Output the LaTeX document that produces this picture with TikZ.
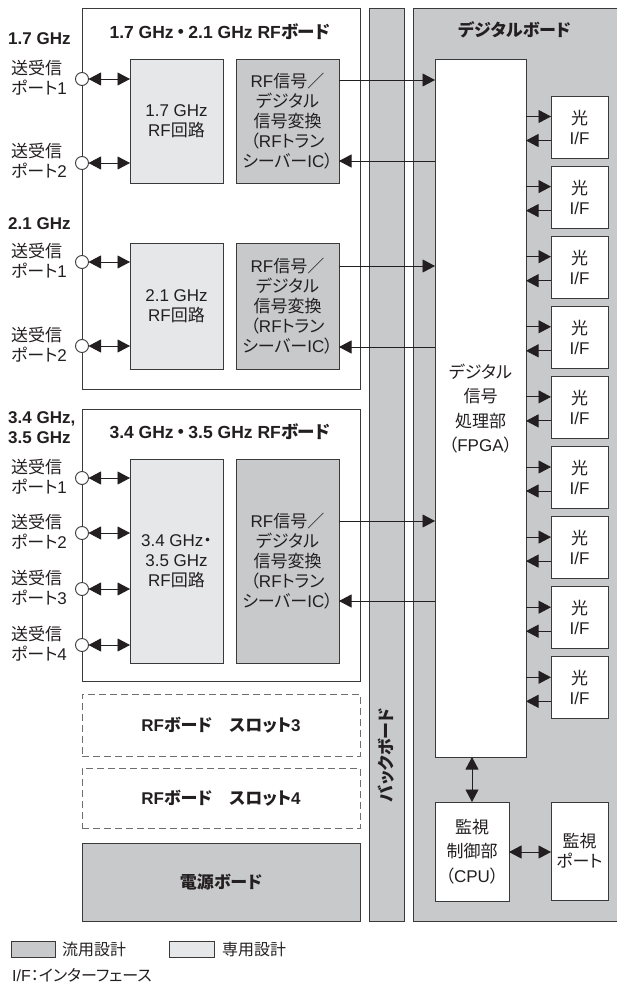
\documentclass[tikz,border=0pt]{standalone}
\usepackage{fontspec}
\setmainfont{Liberation Sans}
\newfontfamily\jpfam{Noto Sans CJK JP}[RawFeature=+palt]
\newfontfamily\lafam{Liberation Sans}
\XeTeXinterchartokenstate=1
\newXeTeXintercharclass\JPcls
\newcount\jcc
\jcc="3000
\loop\XeTeXcharclass\jcc=\JPcls\relax\ifnum\jcc<"9FFF\relax\advance\jcc by 1\relax\repeat
\jcc="FF00
\loop\XeTeXcharclass\jcc=\JPcls\relax\ifnum\jcc<"FFEF\relax\advance\jcc by 1\relax\repeat
\XeTeXinterchartoks 0 \JPcls = {\jpfam}
\XeTeXinterchartoks 4095 \JPcls = {\jpfam}
\XeTeXinterchartoks \JPcls 0 = {\lafam}
\XeTeXinterchartoks \JPcls 4095 = {\lafam}
\usetikzlibrary{arrows.meta}
\definecolor{gA}{HTML}{C8C9CA}
\definecolor{gB}{HTML}{E6E7E8}
\definecolor{ln}{HTML}{3A3A3A}
\definecolor{dl}{HTML}{6D6E70}
\definecolor{tc}{HTML}{231F20}
\newcommand\fsA{\fontsize{17}{20}\selectfont}
\newcommand\fsT{\fontsize{17.5}{20}\selectfont}
\newcommand\fsB{\fontsize{17}{24.4}\selectfont}
\newcommand\fsL{\fontsize{16}{20}\selectfont}
\begin{document}
\begin{tikzpicture}[x=1pt,y=-1pt,
  every node/.style={text=tc},
  box/.style={draw=ln, line width=0.9pt, inner sep=0pt, outer sep=0pt, anchor=north west, font=\fsA, align=center},
  slot/.style={draw=dl, line width=0.8pt, dash pattern=on 7pt off 4pt, inner sep=0pt, outer sep=0pt, anchor=north west, font=\fsA\bfseries, align=center},
  circ/.style={circle, draw=ln, fill=white, line width=0.9pt, minimum size=13pt, inner sep=0pt, outer sep=0pt},
  lab/.style={font=\fsA, align=left, inner sep=0pt, anchor=west},
  ttl/.style={font=\fsA\bfseries, align=center, inner sep=0pt},
  arr/.style={draw=tc, line width=0.9pt, -{Triangle[length=12.5pt,width=13pt]}},
  darr/.style={draw=tc, line width=0.9pt, {Triangle[length=12.5pt,width=13pt]}-{Triangle[length=12.5pt,width=13pt]}}]
\useasboundingbox (0,0) rectangle (616,985);

% ---------------- boards ----------------
\node[box, fill=white, minimum width=278pt, minimum height=381pt] (b1) at (82,8) {};
\node[box, fill=white, minimum width=278pt, minimum height=272pt] (b3) at (82,409) {};
\node[slot, minimum width=278pt, minimum height=62pt] (s3) at (82,694) {RFボード　スロット3};
\node[slot, minimum width=278pt, minimum height=60pt] (s4) at (82,768) {RFボード　スロット4};
\node[box, fill=gA, minimum width=278pt, minimum height=78pt, font=\fsA\bfseries] (pw) at (82,843) {電源ボード};
\node[box, fill=gA, minimum width=35pt, minimum height=913pt] (bb) at (369,8) {};
\node[ttl, rotate=90] (bbt) at (386.5,755) {バックボード};
\node[box, fill=gA, minimum width=205pt, minimum height=913pt] (db) at (413,8) {};
\node[ttl] (dbt) at (514.5,30) {デジタルボード};

% ---------------- board titles and band labels ----------------
\node[ttl, font=\fsT\bfseries] (t1) at (220,32) {1.7 GHz\hspace{3pt}・\hspace{3pt}2.1 GHz RFボード};
\node[ttl, font=\fsT\bfseries] (t3) at (220,432) {3.4 GHz\hspace{3pt}・\hspace{3pt}3.5 GHz RFボード};
\node[lab, font=\fsA\bfseries] (f1) at (8,39) {1.7 GHz};
\node[lab, font=\fsA\bfseries] (f2) at (8,224) {2.1 GHz};
\node[lab, font=\fsA\bfseries] (f3) at (8,428) {3.4 GHz,\\3.5 GHz};

% ---------------- RF circuits and converters ----------------
\node[box, fill=gB, minimum width=93pt, minimum height=124pt] (rf1) at (130,59) {1.7 GHz\\RF回路};
\node[box, fill=gA, minimum width=103pt, minimum height=124pt] (cv1) at (236,59) {RF信号／\\デジタル\\信号変換\\（RFトラン\\シーバーIC）};
\node[box, fill=gB, minimum width=93pt, minimum height=126pt] (rf2) at (130,243) {2.1 GHz\\RF回路};
\node[box, fill=gA, minimum width=103pt, minimum height=126pt] (cv2) at (236,243) {RF信号／\\デジタル\\信号変換\\（RFトラン\\シーバーIC）};
\node[box, fill=gB, minimum width=93pt, minimum height=204pt] (rf3) at (130,459) {3.4 GHz・\\3.5 GHz\\RF回路};
\node[box, fill=gA, minimum width=103pt, minimum height=204pt] (cv3) at (236,459) {RF信号／\\デジタル\\信号変換\\（RFトラン\\シーバーIC）};

% ---------------- ports ----------------
\node[circ] (p11) at (82,79) {};
\node[circ] (p12) at (82,163) {};
\node[circ] (p21) at (82,262) {};
\node[circ] (p22) at (82,346) {};
\node[circ] (p31) at (82,478) {};
\node[circ] (p32) at (82,533) {};
\node[circ] (p33) at (82,589) {};
\node[circ] (p34) at (82,645) {};
\node[lab] (l11) at (11,77.5) {送受信\\ポート1};
\node[lab] (l12) at (11,161) {送受信\\ポート2};
\node[lab] (l21) at (11,261) {送受信\\ポート1};
\node[lab] (l22) at (11,344.5) {送受信\\ポート2};
\node[lab] (l31) at (11,476.5) {送受信\\ポート1};
\node[lab] (l32) at (11,531.5) {送受信\\ポート2};
\node[lab] (l33) at (11,587.5) {送受信\\ポート3};
\node[lab] (l34) at (11,643.5) {送受信\\ポート4};
\draw[darr] (p11.east) -- (rf1.west |- p11);
\draw[darr] (p12.east) -- (rf1.west |- p12);
\draw[darr] (p21.east) -- (rf2.west |- p21);
\draw[darr] (p22.east) -- (rf2.west |- p22);
\draw[darr] (p31.east) -- (rf3.west |- p31);
\draw[darr] (p32.east) -- (rf3.west |- p32);
\draw[darr] (p33.east) -- (rf3.west |- p33);
\draw[darr] (p34.east) -- (rf3.west |- p34);

% ---------------- FPGA ----------------
\node[box, fill=white, minimum width=91pt, minimum height=698pt] (fpga) at (435,59) {};
\node[font=\fsB, align=center, inner sep=0pt] (fpt) at (480.5,408.5) {デジタル\\信号\\処理部\\（FPGA）};

\coordinate (y1a) at (0,80);
\coordinate (y1b) at (0,161);
\coordinate (y2a) at (0,266);
\coordinate (y2b) at (0,347);
\coordinate (y3a) at (0,521);
\coordinate (y3b) at (0,601);
\draw[arr] (cv1.east |- y1a) -- (fpga.west |- y1a);
\draw[arr] (fpga.west |- y1b) -- (cv1.east |- y1b);
\draw[arr] (cv2.east |- y2a) -- (fpga.west |- y2a);
\draw[arr] (fpga.west |- y2b) -- (cv2.east |- y2b);
\draw[arr] (cv3.east |- y3a) -- (fpga.west |- y3a);
\draw[arr] (fpga.west |- y3b) -- (cv3.east |- y3b);

% ---------------- optical interfaces ----------------
\foreach \i in {0,...,8} {
  \pgfmathsetmacro\ty{96+70.1*\i}
  \node[box, fill=white, minimum width=57pt, minimum height=62pt] (o\i) at (551,\ty) {光\\I/F};
  \coordinate (oa\i) at (0,\ty+20.5);
  \coordinate (ob\i) at (0,\ty+44.5);
  \draw[arr] (fpga.east |- oa\i) -- (o\i.west |- oa\i);
  \draw[arr] (o\i.west |- ob\i) -- (fpga.east |- ob\i);
}

% ---------------- monitoring ----------------
\node[box, fill=white, minimum width=74pt, minimum height=99pt, font=\fsB] (cpu) at (435,802) {監視\\制御部\\（CPU）};
\node[box, fill=white, minimum width=57pt, minimum height=98pt] (mp) at (551,802) {監視\\ポート};
\draw[darr] (fpga.south -| cpu.north) -- (cpu.north);
\coordinate (ym) at (0,852);
\draw[darr] (cpu.east |- ym) -- (mp.west |- ym);

% ---------------- legend ----------------
\node[box, fill=gA, minimum width=44pt, minimum height=16pt] (lg1) at (11,941) {};
\node[lab, font=\fsL] (lg1t) at (62,949) {流用設計};
\node[box, fill=gB, minimum width=45pt, minimum height=16pt] (lg2) at (169,941) {};
\node[lab, font=\fsL] (lg2t) at (222,949) {専用設計};
\node[lab, font=\fsL] (ift) at (12,975) {I/F：インターフェース};
\end{tikzpicture}
\end{document}
